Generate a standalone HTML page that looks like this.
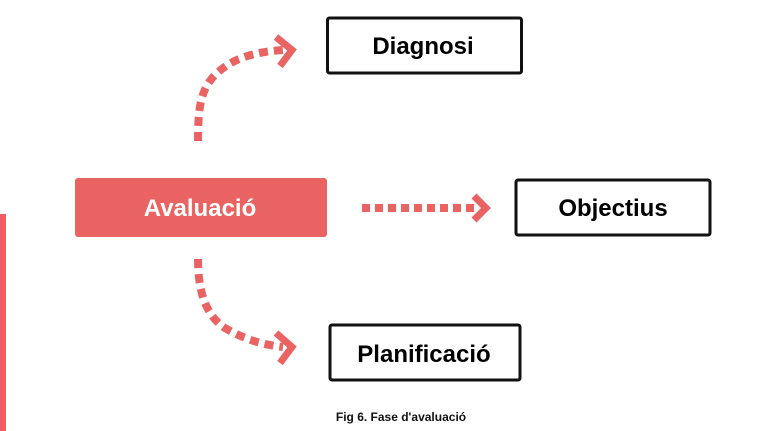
<!DOCTYPE html>
<html><head><meta charset="utf-8"><style>
html,body{margin:0;padding:0;background:#fff;}
body{width:767px;height:431px;overflow:hidden;position:relative;font-family:"Liberation Sans",Arial,sans-serif;}
</style></head><body>
<svg width="767" height="431" viewBox="0 0 767 431" xmlns="http://www.w3.org/2000/svg" style="position:absolute;left:0;top:0">
<rect x="0" y="214" width="6" height="217" fill="#f25c63"/>
<rect x="75" y="178" width="252" height="59" rx="3" fill="#ea6363"/>
<text x="200" y="216" text-anchor="middle" fill="#fff" font-size="24" font-weight="bold" font-family="Liberation Sans, Arial, sans-serif">Avaluació</text>
<g fill="#fff" stroke="#111" stroke-width="3">
<rect x="327.5" y="18" width="194" height="55" rx="2"/>
<rect x="516" y="180" width="194" height="55" rx="2"/>
<rect x="330" y="325" width="190" height="55" rx="2"/>
</g>
<g font-family="Liberation Sans, Arial, sans-serif" font-weight="bold" font-size="24" fill="#000" text-anchor="middle">
<text x="423" y="54">Diagnosi</text>
<text x="613" y="216">Objectius</text>
<text x="424" y="362">Planificació</text>
</g>
<text x="401" y="421" text-anchor="middle" font-family="Liberation Sans, Arial, sans-serif" font-weight="bold" font-size="12" fill="#111">Fig 6. Fase d'avaluació</text>
<g fill="none" stroke="#ea6363" stroke-width="8">
<path d="M198 141 C198 110 200 90 215 75 C232 58 255 52 283 50" stroke-dasharray="9 6"/>
<path d="M362 208 L478 208" stroke-dasharray="8 5"/>
<path d="M198 259 C198 290 205 315 225 328 C245 340 265 345 283 347" stroke-dasharray="9 6"/>
</g>
<g fill="none" stroke="#ea6363" stroke-width="7" stroke-linejoin="miter">
<path d="M276 37 L292 50 L280 66"/>
<path d="M474 196 L486 208 L474 220"/>
<path d="M276 333 L292 347 L280 363"/>
</g>
</svg>
</body></html>
